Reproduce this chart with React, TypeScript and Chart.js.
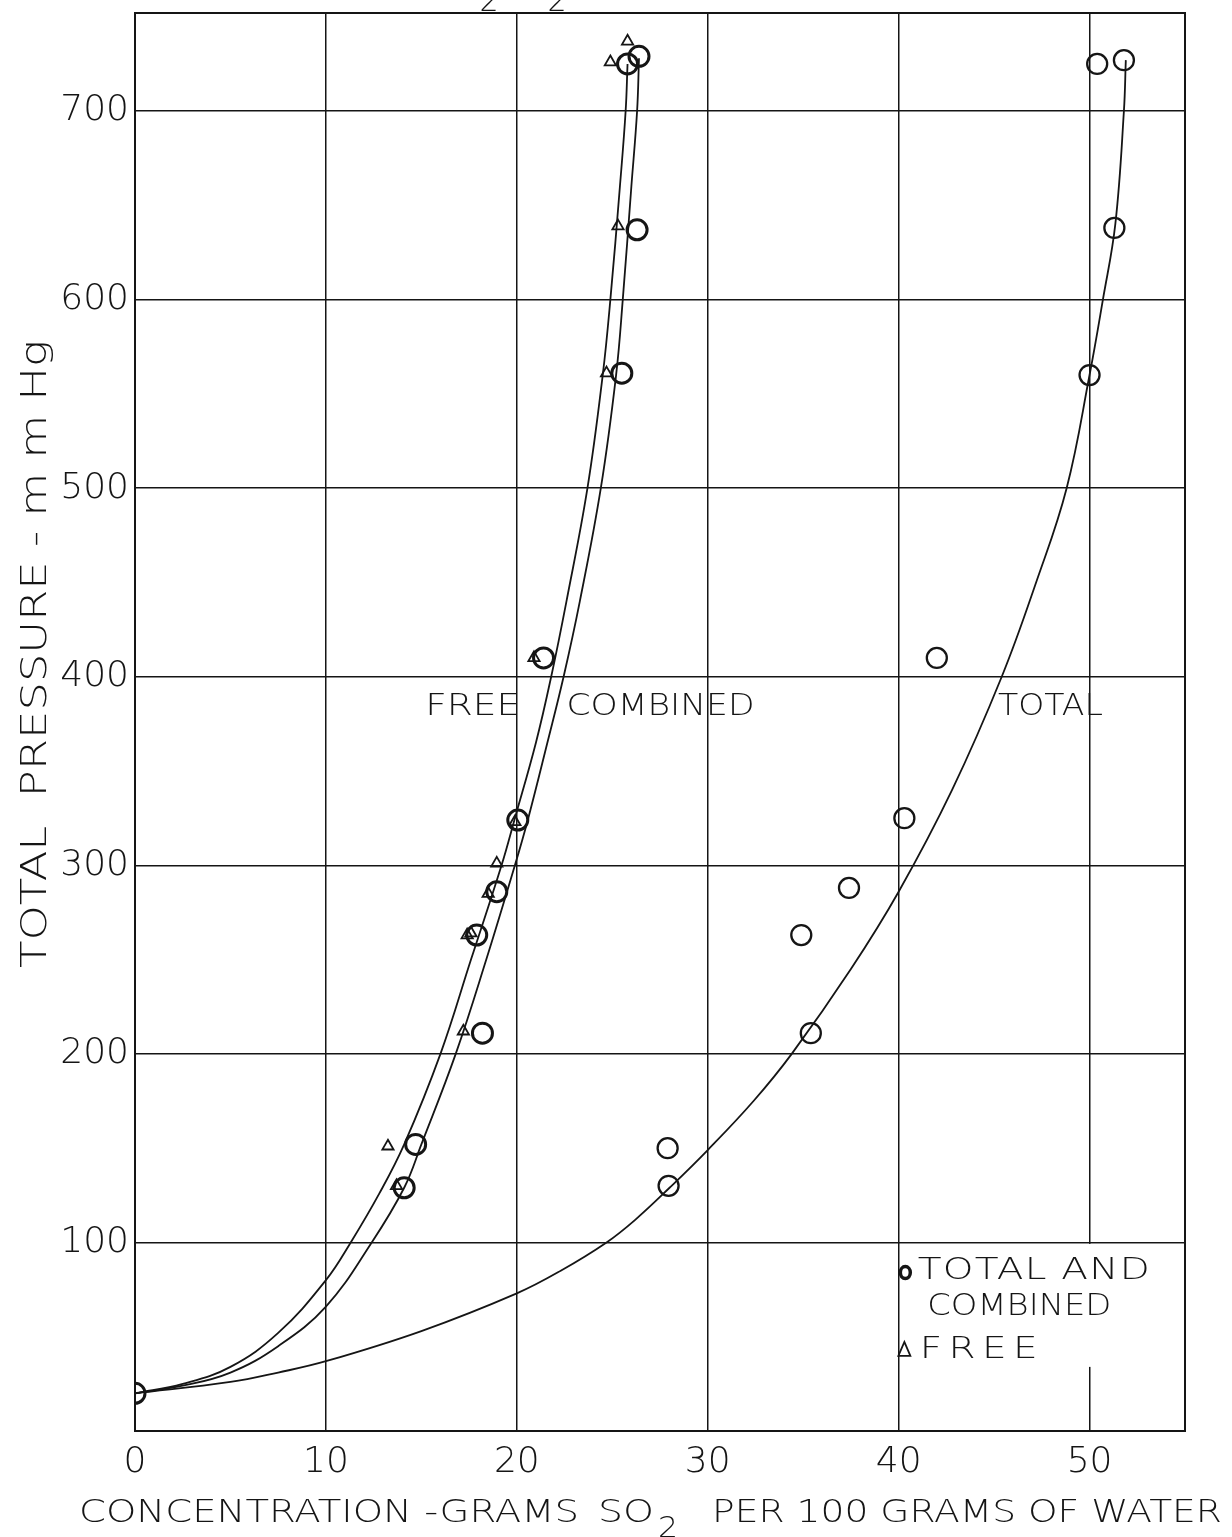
import React, { useEffect, useRef } from 'react';
import { Chart, registerables } from 'chart.js';

Chart.register(...registerables);

const FONT = '"DejaVu Sans", "Liberation Sans", sans-serif';
const WEIGHT = '200';
const INK = '#151515';

// ---- axes ----
const xTickValues = [0, 10, 20, 30, 40, 50];
const yTickValues = [100, 200, 300, 400, 500, 600, 700];
const xMin = 0;
const xMax = 55;
const yMin = 0;
const yMax = 752;

// ---- texts ----
const xTitleParts = ['CONCENTRATION -GRAMS', 'SO', '2', 'PER 100 GRAMS OF WATER'];
const yTitle = 'TOTAL  PRESSURE - m m Hg';
const curveLabels = ['FREE', 'COMBINED', 'TOTAL'];
const legendLines = ['TOTAL AND', 'COMBINED', 'FREE'];

// ---- measured points: "total and combined" circles on the combined curve ----
const combinedX = [0, 14.1, 14.7, 18.2, 17.9, 18.95, 20.05, 21.4, 25.5, 26.3, 25.8, 26.4];
const combinedY = [20, 129, 152, 211, 263, 286, 324, 410, 561, 637, 725, 729];

// ---- measured points: free (triangles) ----
const freeX = [13.7, 13.25, 17.2, 17.4, 17.6, 18.5, 18.95, 19.9, 20.9, 24.7, 25.3, 24.9, 25.8];
const freeY = [130, 151, 212, 263, 264, 285, 301, 323, 410, 561, 639, 726, 737];

// ---- measured points: total (circles on the right) ----
const totalX = [27.9, 27.95, 35.4, 34.9, 37.4, 40.3, 42.0, 50.0, 51.3, 50.4, 51.8];
const totalY = [150, 130, 211, 263, 288, 325, 410, 560, 638, 725, 727];

// ---- drawn curves ----
const freeCurveX = [0, 2.5, 5, 7.5, 10, 11.3, 12.8, 14.1, 16.0, 17.6, 19.2, 19.9, 21.0, 21.8, 22.6, 23.7, 24.5, 24.9, 25.4, 25.7, 25.8];
const freeCurveY = [20, 25, 34, 52, 80, 100, 126, 152, 200, 250, 300, 325, 365, 400, 440, 500, 560, 600, 660, 700, 725];

const combinedCurveX = [0, 2.5, 5, 7.5, 10, 12.4, 14.1, 15.0, 16.8, 18.4, 19.9, 20.6, 21.6, 22.45, 23.3, 24.4, 25.2, 25.55, 26.0, 26.3, 26.4];
const combinedCurveY = [20, 24, 31, 45, 66, 100, 129, 152, 200, 250, 300, 325, 365, 400, 440, 500, 560, 600, 660, 700, 728];

const totalCurveX = [0, 5, 7.5, 10, 15, 20, 22.3, 24.7, 26.2, 28.0, 30.0, 32.4, 34.4, 37.5, 40.0, 42.8, 45.4, 47.2, 48.8, 50.0, 50.7, 51.35, 51.8, 51.9];
const totalCurveY = [20, 26, 31, 37, 53, 73, 85, 100, 112, 129, 149, 175, 200, 245, 286, 340, 400, 450, 500, 560, 600, 640, 700, 727];

// ---- placement of in-plot labels (data coordinates) and their widths (px) ----
const curveLabelX = [15.2, 22.6, 45.2];
const curveLabelY = [384, 384, 384];
const curveLabelW = [95, 188, 105];

const legendTextX = [41.0, 41.5, 41.1];
const legendTextY = [85, 65.6, 43];
const legendTextW = [232, 184, 118];

const toPts = (xs: number[], ys: number[]) => xs.map((x, i) => ({ x, y: ys[i] }));

function fitText(
  ctx: CanvasRenderingContext2D,
  text: string,
  x: number,
  y: number,
  width: number,
  size: number,
  maxStretch = 1.3
) {
  ctx.font = `${WEIGHT} ${size}px ${FONT}`;
  (ctx as any).letterSpacing = '0px';
  const w = ctx.measureText(text).width;
  const n = text.length;
  let sx = width / w;
  let sp = 0;
  if (sx > maxStretch) {
    sx = maxStretch;
    sp = n > 1 ? (width / sx - w) / (n - 1) : 0;
  }
  ctx.save();
  ctx.translate(x, y);
  ctx.scale(sx, 1);
  (ctx as any).letterSpacing = `${sp}px`;
  ctx.fillText(text, 0, 0);
  (ctx as any).letterSpacing = '0px';
  ctx.restore();
}

const paperPlugin = {
  id: 'paper',
  beforeDatasetsDraw(chart: any) {
    const { ctx, chartArea, scales } = chart;
    const xs = scales.x;
    const ys = scales.y;
    // white patch behind the legend
    ctx.save();
    ctx.fillStyle = '#ffffff';
    const l = xs.getPixelForValue(40) + 1.5;
    const t = ys.getPixelForValue(100) + 1.5;
    const b = ys.getPixelForValue(34);
    ctx.fillRect(l, t, chartArea.right - 1.5 - l, b - t);
    ctx.restore();
  },
  afterDraw(chart: any) {
    const { ctx, chartArea, scales } = chart;
    const xs = scales.x;
    const ys = scales.y;
    ctx.save();
    // frame
    ctx.strokeStyle = INK;
    ctx.lineWidth = 2;
    ctx.strokeRect(chartArea.left, chartArea.top, chartArea.right - chartArea.left, chartArea.bottom - chartArea.top);

    ctx.fillStyle = INK;
    ctx.textBaseline = 'middle';
    ctx.textAlign = 'left';

    // curve labels
    curveLabels.forEach((s, i) => {
      fitText(ctx, s, xs.getPixelForValue(curveLabelX[i]), ys.getPixelForValue(curveLabelY[i]), curveLabelW[i], 30);
    });

    // legend text
    legendLines.forEach((s, i) => {
      fitText(ctx, s, xs.getPixelForValue(legendTextX[i]), ys.getPixelForValue(legendTextY[i]), legendTextW[i], 30);
    });
    // legend markers
    ctx.strokeStyle = INK;
    ctx.lineWidth = 3.5;
    ctx.beginPath();
    ctx.ellipse(xs.getPixelForValue(40.35), ys.getPixelForValue(84), 5, 6, 0, 0, Math.PI * 2);
    ctx.stroke();
    ctx.lineWidth = 1.8;
    const tx = xs.getPixelForValue(40.3);
    const ty = ys.getPixelForValue(43);
    ctx.beginPath();
    ctx.moveTo(tx, ty - 8);
    ctx.lineTo(tx + 6, ty + 6);
    ctx.lineTo(tx - 6, ty + 6);
    ctx.closePath();
    ctx.stroke();

    // y-axis title (rotated)
    ctx.save();
    ctx.translate(37, 968);
    ctx.rotate(-Math.PI / 2);
    ctx.textBaseline = 'middle';
    fitText(ctx, yTitle, 0, 0, 628, 35, 1.35);
    ctx.restore();

    // x-axis title with subscript
    const ty0 = 1514;
    fitText(ctx, xTitleParts[0], 79, ty0, 500, 32);
    fitText(ctx, xTitleParts[1], 598, ty0, 56, 32);
    fitText(ctx, xTitleParts[2], 658, ty0 + 16, 20, 28);
    fitText(ctx, xTitleParts[3], 712, ty0, 510, 32);

    // clipped remnants of a caption above the frame
    ctx.textBaseline = 'alphabetic';
    ctx.textAlign = 'center';
    ctx.font = `${WEIGHT} 30px ${FONT}`;
    ctx.fillText('2', 489, 11);
    ctx.fillText('2', 557, 11);
    ctx.restore();
  },
};

const curveStyle = {
  showLine: true,
  pointRadius: 0,
  borderColor: INK,
  borderWidth: 1.8,
  tension: 0.4,
  fill: false,
};

export default function App() {
  const ref = useRef<HTMLCanvasElement>(null);

  useEffect(() => {
    const canvas = ref.current;
    if (!canvas) return;
    const tickFont = { family: FONT, size: 36, weight: WEIGHT as any };
    const chart = new Chart(canvas, {
      type: 'scatter',
      data: {
        datasets: [
          {
            label: 'Total and combined',
            data: toPts(combinedX, combinedY),
            pointStyle: 'circle',
            pointRadius: 10,
            pointBorderWidth: 3,
            pointBorderColor: INK,
            pointBackgroundColor: 'rgba(0,0,0,0)',
            showLine: false,
          },
          {
            label: 'Free',
            data: toPts(freeX, freeY),
            pointStyle: 'triangle',
            pointRadius: 6.5,
            pointBorderWidth: 1.8,
            pointBorderColor: INK,
            pointBackgroundColor: 'rgba(0,0,0,0)',
            showLine: false,
          },
          {
            label: 'Total',
            data: toPts(totalX, totalY),
            pointStyle: 'circle',
            pointRadius: 10,
            pointBorderWidth: 2.3,
            pointBorderColor: INK,
            pointBackgroundColor: 'rgba(0,0,0,0)',
            showLine: false,
          },
          { label: 'Free curve', data: toPts(freeCurveX, freeCurveY), ...curveStyle },
          { label: 'Combined curve', data: toPts(combinedCurveX, combinedCurveY), ...curveStyle },
          { label: 'Total curve', data: toPts(totalCurveX, totalCurveY), ...curveStyle },
        ],
      },
      options: {
        responsive: true,
        maintainAspectRatio: false,
        animation: false,
        layout: { padding: { top: 11, right: 47, left: 0, bottom: 0 } },
        plugins: { legend: { display: false }, tooltip: { enabled: false } },
        scales: {
          x: {
            type: 'linear',
            min: xMin,
            max: xMax,
            afterBuildTicks: (s: any) => {
              s.ticks = xTickValues.map((v) => ({ value: v }));
            },
            afterFit: (s: any) => {
              s.height = 106;
              s.paddingLeft = 0;
              s.paddingRight = 0;
            },
            grid: { color: INK, lineWidth: 1.5, drawTicks: false },
            border: { color: INK, width: 2 },
            ticks: { font: tickFont, color: INK, padding: 10, maxRotation: 0 },
          },
          y: {
            type: 'linear',
            min: yMin,
            max: yMax,
            afterBuildTicks: (s: any) => {
              s.ticks = yTickValues.map((v) => ({ value: v }));
            },
            afterFit: (s: any) => {
              s.width = 135;
              s.paddingTop = 0;
              s.paddingBottom = 0;
            },
            grid: { color: INK, lineWidth: 1.5, drawTicks: false },
            border: { color: INK, width: 2 },
            ticks: { font: tickFont, color: INK, padding: 6 },
          },
        },
      },
      plugins: [paperPlugin],
    });
    return () => chart.destroy();
  }, []);

  return (
    <div style={{ position: 'absolute', left: 0, top: 0, width: 1232, height: 1537, background: '#ffffff' }}>
      <canvas ref={ref} />
    </div>
  );
}
